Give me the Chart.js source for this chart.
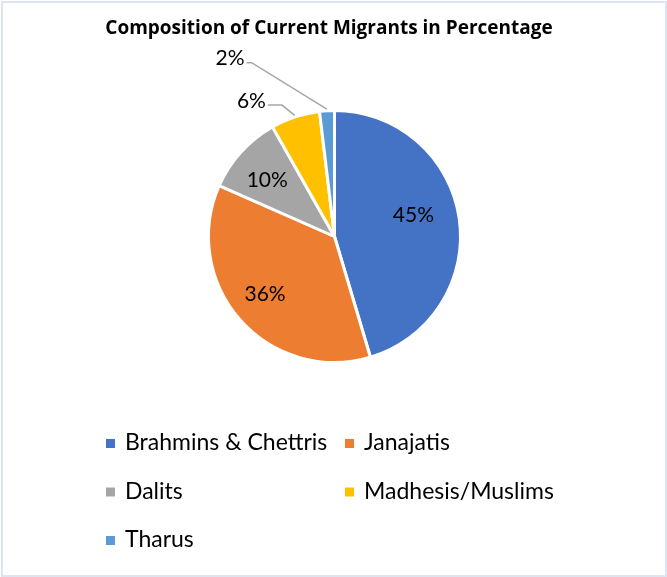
<!DOCTYPE html>
<html>
<head>
<meta charset="utf-8">
<script src="https://cdn.jsdelivr.net/npm/chart.js@4.4.0/dist/chart.umd.min.js"></script>
<style>
  html, body { margin: 0; padding: 0; background: #fff; }
  #frame {
    position: absolute; left: 1px; top: 1px; width: 666px; height: 576px;
    box-sizing: border-box; border: 2px solid #dce6f2;
  }
  #wrap { position: absolute; left: 0; top: 0; width: 667px; height: 577px; }
</style>
</head>
<body>
<div id="frame"></div>
<div id="wrap"><canvas id="pieChart" width="667" height="577"></canvas></div>
<script>
// Datos del gráfico
const titulo = 'Composition of Current Migrants in Percentage';
const categorias = ['Brahmins & Chettris', 'Janajatis', 'Dalits', 'Madhesis/Muslims', 'Tharus'];
const porcentajes = [45.4, 36.2, 10.2, 6.3, 1.9];
const colores = ['#4472C4', '#ED7D31', '#A5A5A5', '#FFC000', '#5B9BD5'];

const FUENTE = 'Lato, "Open Sans", sans-serif';

// Posición de etiquetas: dentro (r = fracción del radio, da = ajuste de ángulo en grados)
// o fuera con línea guía (codo en coordenadas polares relativas al centro)
const posEtiquetas = [
    { tipo: 'in', r: 0.64, da: -6.5 },
    { tipo: 'in', r: 0.71, da: 1.5 },
    { tipo: 'in', r: 0.69, da: -2 },
    { tipo: 'out', dist: 1.11, ang: -21.8, tramo: 14 },
    { tipo: 'out', dist: 1.51, ang: -25.5, tramo: 5 }
];

const etiquetasPlugin = {
    id: 'etiquetas',
    afterDatasetsDraw(chart) {
        const ctx = chart.ctx;
        const meta = chart.getDatasetMeta(0);
        ctx.save();
        ctx.font = '21px ' + FUENTE;
        ctx.fillStyle = '#000';
        meta.data.forEach((arc, i) => {
            const { x, y, startAngle, endAngle, outerRadius } = arc.getProps(['x', 'y', 'startAngle', 'endAngle', 'outerRadius'], true);
            const R = outerRadius + 1.5;
            const mid = (startAngle + endAngle) / 2;
            const texto = Math.round(porcentajes[i]) + '%';
            const p = posEtiquetas[i];
            if (p.tipo === 'in') {
                const a = mid + p.da * Math.PI / 180;
                ctx.textAlign = 'center';
                ctx.textBaseline = 'middle';
                ctx.fillText(texto, x + Math.cos(a) * R * p.r, y + Math.sin(a) * R * p.r);
            } else {
                const a = (p.ang - 90) * Math.PI / 180;
                const ex = x + Math.cos(a) * R * p.dist;
                const ey = y + Math.sin(a) * R * p.dist;
                ctx.beginPath();
                ctx.moveTo(x + Math.cos(mid) * R, y + Math.sin(mid) * R);
                ctx.lineTo(ex, ey);
                ctx.lineTo(ex - p.tramo, ey);
                ctx.strokeStyle = '#A6A6A6';
                ctx.lineWidth = 1.5;
                ctx.stroke();
                ctx.textAlign = 'right';
                ctx.textBaseline = 'middle';
                ctx.fillText(texto, ex - p.tramo - 2, ey - 4);
            }
        });
        ctx.restore();
    }
};

// Título y leyenda en dos columnas, como en Excel
const leyendaPlugin = {
    id: 'leyenda',
    afterDraw(chart) {
        const ctx = chart.ctx;
        ctx.save();
        ctx.fillStyle = '#000';
        ctx.font = 'bold 19px "Open Sans", Lato, sans-serif';
        ctx.textAlign = 'center';
        ctx.textBaseline = 'middle';
        ctx.fillText(titulo, 329, 29);

        ctx.font = '23px ' + FUENTE;
        ctx.textAlign = 'left';
        ctx.textBaseline = 'alphabetic';
        categorias.forEach((c, i) => {
            const col = i % 2, fila = Math.floor(i / 2);
            const mx = 106 + col * 239;
            const my = 439 + fila * 48.5;
            ctx.fillStyle = colores[i];
            ctx.fillRect(mx, my, 9, 9);
            ctx.fillStyle = '#000';
            ctx.fillText(c, mx + 19, my + 11);
        });
        ctx.restore();
    }
};

new Chart(document.getElementById('pieChart').getContext('2d'), {
    type: 'pie',
    data: {
        labels: categorias,
        datasets: [{
            data: porcentajes,
            backgroundColor: colores,
            borderColor: '#fff',
            borderWidth: 3
        }]
    },
    options: {
        responsive: false,
        animation: false,
        layout: { padding: { top: 109, left: 207, right: 205, bottom: 213 } },
        plugins: {
            title: { display: false },
            legend: { display: false },
            tooltip: { enabled: false }
        }
    },
    plugins: [etiquetasPlugin, leyendaPlugin]
});
</script>
</body>
</html>
